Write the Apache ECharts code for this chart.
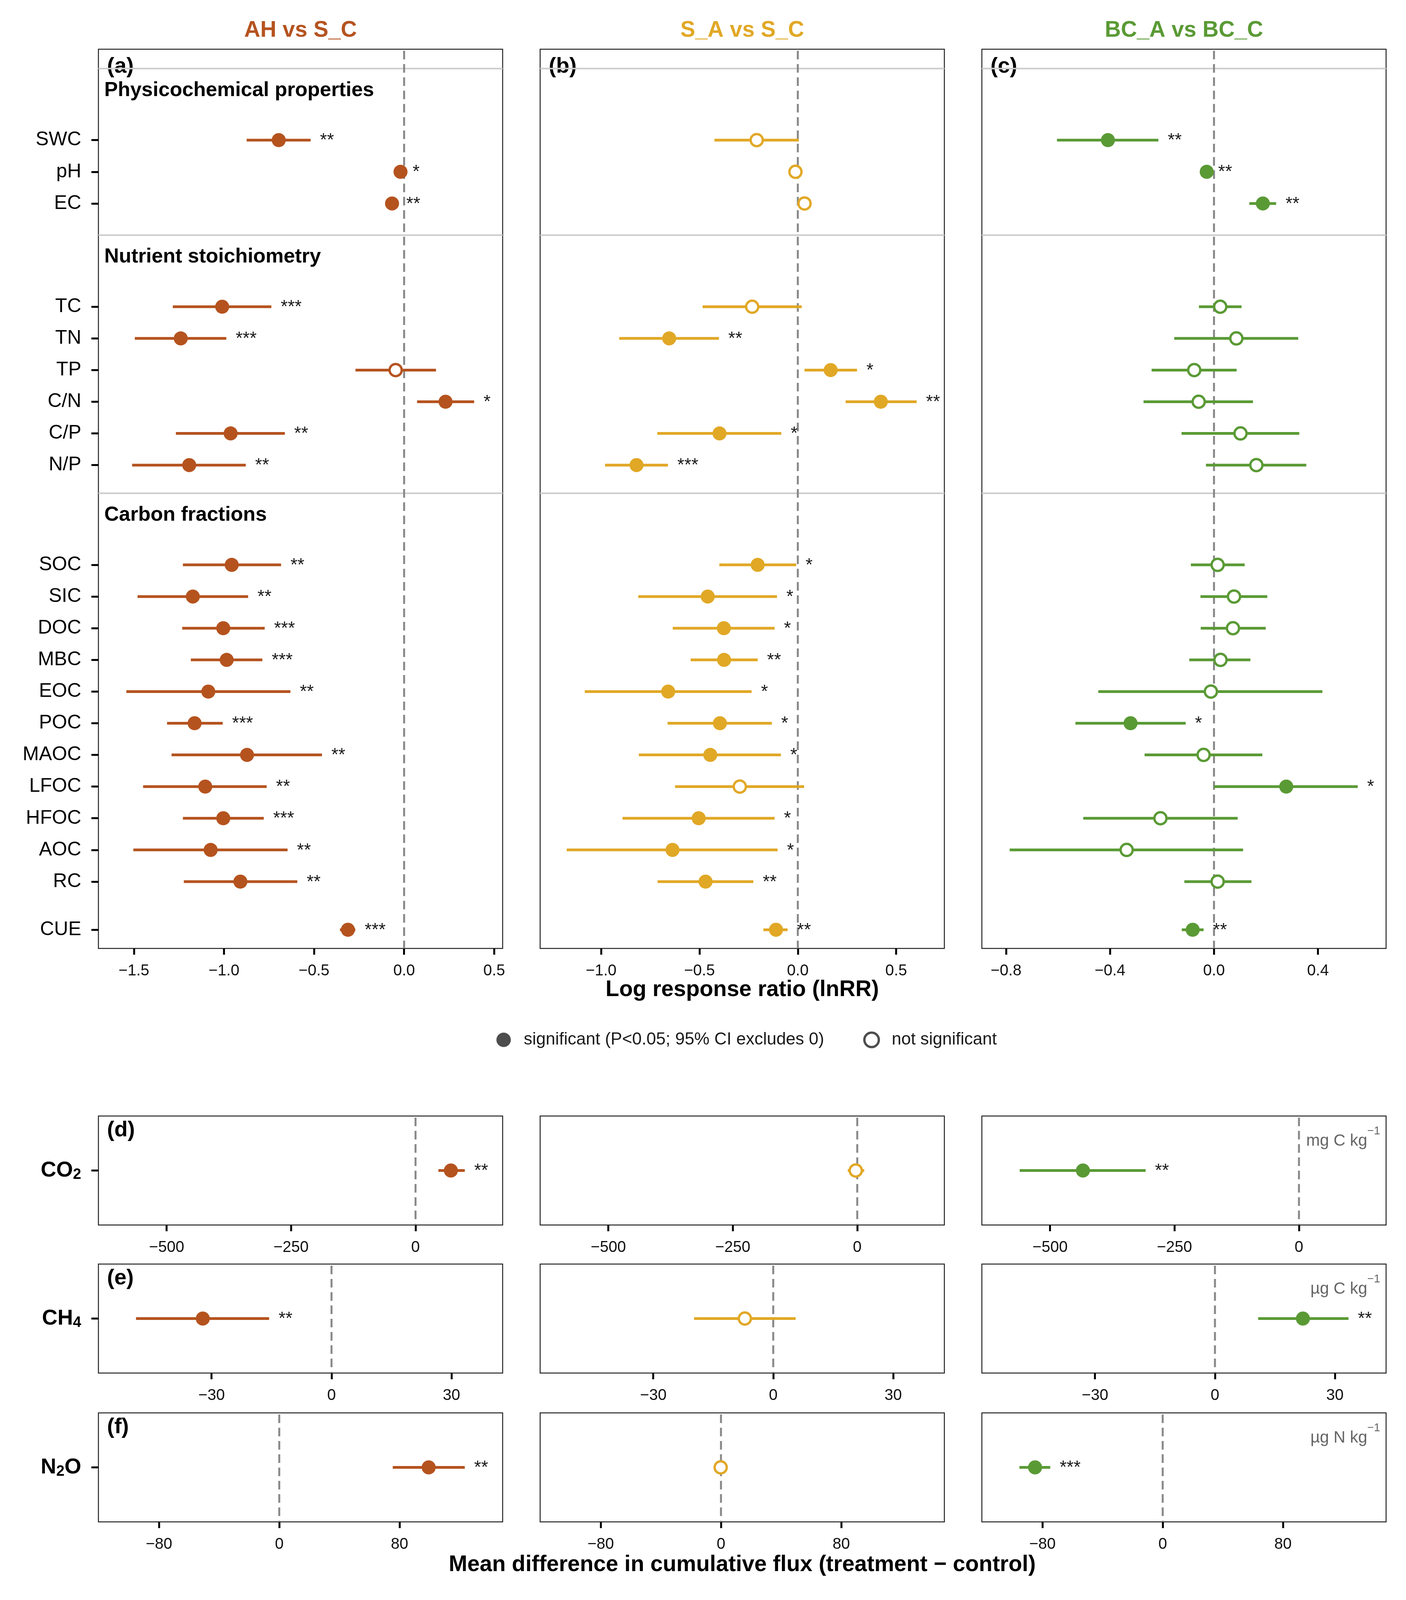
<!DOCTYPE html>
<html>
<head>
<meta charset="utf-8">
<script src="https://cdn.jsdelivr.net/npm/echarts@6/dist/echarts.min.js"></script>
<style>
  html, body { margin: 0; padding: 0; background: #fff; overflow: hidden; }
  #chart { width: 3600px; height: 4207px; }
</style>
</head>
<body>
<div id="chart"></div>
<script>
// ---- data ----
const physRows = ['SWC', 'pH', 'EC'];
const nutrRows = ['TC', 'TN', 'TP', 'C/N', 'C/P', 'N/P'];
const carbRows = ['SOC', 'SIC', 'DOC', 'MBC', 'EOC', 'POC', 'MAOC', 'LFOC', 'HFOC', 'AOC', 'RC'];
const cueRows = ['CUE'];
const sectionTitles = ['Physicochemical properties', 'Nutrient stoichiometry', 'Carbon fractions'];
const comparisons = ['AH vs S_C', 'S_A vs S_C', 'BC_A vs BC_C'];

// lnRR, rows in order SWC..EC, TC..N/P, SOC..RC, CUE
const ahEst = [-0.696, -0.02, -0.067, -1.01, -1.24, -0.047, 0.23, -0.963, -1.193, -0.957, -1.173, -1.004, -0.985, -1.087, -1.163, -0.872, -1.104, -1.004, -1.074, -0.909, -0.312];
const ahLo  = [-0.874, -0.035, -0.095, -1.284, -1.495, -0.27, 0.072, -1.267, -1.51, -1.228, -1.48, -1.232, -1.184, -1.542, -1.316, -1.291, -1.449, -1.228, -1.503, -1.223, -0.356];
const ahHi  = [-0.519, -0.005, -0.04, -0.737, -0.987, 0.177, 0.389, -0.662, -0.879, -0.683, -0.866, -0.774, -0.787, -0.631, -1.007, -0.456, -0.763, -0.779, -0.647, -0.593, -0.271];
const ahSig = ['**', '*', '**', '***', '***', '', '*', '**', '**', '**', '**', '***', '***', '**', '***', '**', '**', '***', '**', '**', '***'];

const saEst = [-0.209, -0.012, 0.034, -0.232, -0.654, 0.167, 0.422, -0.398, -0.82, -0.204, -0.458, -0.376, -0.375, -0.659, -0.396, -0.445, -0.295, -0.504, -0.637, -0.469, -0.111];
const saLo  = [-0.424, -0.02, 0.026, -0.484, -0.908, 0.034, 0.243, -0.714, -0.98, -0.399, -0.811, -0.636, -0.545, -1.083, -0.662, -0.808, -0.624, -0.891, -1.175, -0.713, -0.175];
const saHi  = [0.005, -0.004, 0.042, 0.02, -0.401, 0.301, 0.604, -0.084, -0.66, -0.008, -0.106, -0.118, -0.204, -0.235, -0.132, -0.086, 0.032, -0.118, -0.103, -0.226, -0.052];
const saSig = ['', '', '', '', '**', '*', '**', '*', '***', '*', '*', '*', '**', '*', '*', '*', '', '*', '*', '**', '**'];

const bcEst = [-0.408, -0.028, 0.188, 0.024, 0.086, -0.076, -0.059, 0.102, 0.163, 0.014, 0.077, 0.073, 0.025, -0.012, -0.321, -0.04, 0.278, -0.206, -0.336, 0.014, -0.082];
const bcLo  = [-0.604, -0.036, 0.136, -0.058, -0.153, -0.24, -0.271, -0.125, -0.031, -0.089, -0.052, -0.051, -0.095, -0.445, -0.533, -0.267, 0.0, -0.503, -0.786, -0.114, -0.124];
const bcHi  = [-0.214, -0.02, 0.239, 0.106, 0.324, 0.087, 0.15, 0.328, 0.355, 0.118, 0.205, 0.199, 0.14, 0.417, -0.109, 0.186, 0.553, 0.091, 0.112, 0.144, -0.04];
const bcSig = ['**', '**', '**', '', '', '', '', '', '', '', '', '', '', '', '*', '', '*', '', '', '', '**'];

// cumulative flux difference (treatment - control), order CO2, CH4, N2O
const gases = ['CO2', 'CH4', 'N2O'];
const gasUnits = ['mg C kg', 'µg C kg', 'µg N kg'];
const ahFluxEst = [71, -32.2, 99.4];
const ahFluxLo  = [46, -48.9, 75.5];
const ahFluxHi  = [99, -15.6, 123.4];
const ahFluxSig = ['**', '**', '**'];
const saFluxEst = [-3, -7.1, -0.2];
const saFluxLo  = [-19, -19.8, -1.5];
const saFluxHi  = [14, 5.6, 1.1];
const saFluxSig = ['', '', ''];
const bcFluxEst = [-434, 22.0, -84.9];
const bcFluxLo  = [-561, 10.8, -95.3];
const bcFluxHi  = [-308, 33.4, -74.8];
const bcFluxSig = ['**', '**', '***'];

// axes
const lnrrRange = [[-1.697, 0.547], [-1.31, 0.745], [-0.893, 0.662]];
const lnrrTicks = [[-1.5, -1.0, -0.5, 0, 0.5], [-1.0, -0.5, 0, 0.5], [-0.8, -0.4, 0, 0.4]];
const fluxRange = [[-637, 175], [-58.3, 42.8], [-120.3, 148.6]];
const fluxTicks = [[-500, -250, 0], [-30, 0, 30], [-80, 0, 80]];

// ---- layout ----
// the figure was laid out for 4207 px of height; squeeze vertically to the real viewport
const H = Math.min(window.innerHeight || 4207, 4207);
const sy = H / 4207;
const Y = v => Math.round(v * sy);
document.getElementById('chart').style.height = H + 'px';

const FONT = '"Liberation Sans", Arial, Helvetica, sans-serif';
const colors = ['#B5531F', '#E1A826', '#5A9A35'];
const panelLeft = [252, 1383, 2514];
const panelW = 1035;
const topY = Y(129), topH = Y(2494) - Y(129);
const fluxTop = [Y(2934), Y(3324), Y(3715)];
const fluxH = Y(287);

// row positions on the hidden y scale (units of one row)
const groups = [physRows, nutrRows, carbRows, cueRows];
const groupStart = [2.87, 8.13, 16.28, 27.8];
const yMax = 28.39;
const rowNames = groups.flat();
const rowPos = groups.flatMap((g, gi) => g.map((_, i) => groupStart[gi] + i));
const posToName = {};
rowPos.forEach((p, i) => { posToName[p.toFixed(2)] = rowNames[i]; });
const sectionLinePos = groupStart.slice(0, 3).map(s => s - 2.26);
const sectionHeadPos = groupStart.slice(0, 3).map(s => s - 1.57);

const minus = s => String(s).replace('-', '\u2212');
const fmt1 = v => minus(Number(v).toFixed(1));
const fmt0 = v => minus(Math.round(v));

const chart = echarts.init(document.getElementById('chart'), null, { renderer: 'canvas' });

const grids = [], xAxes = [], yAxes = [], series = [];

function forest(idx, est, lo, hi, sig, pos, color) {
  return {
    type: 'custom', xAxisIndex: idx, yAxisIndex: idx, z: 5, silent: true,
    data: est.map((e, i) => [e, lo[i], hi[i], pos[i]]),
    encode: { x: [0, 1, 2], y: 3 },
    renderItem: function (params, api) {
      const i = params.dataIndex;
      const p = api.coord([api.value(0), api.value(3)]);
      const a = api.coord([api.value(1), api.value(3)]);
      const b = api.coord([api.value(2), api.value(3)]);
      const filled = sig[i] !== '';
      const kids = [
        { type: 'line', shape: { x1: a[0], y1: a[1], x2: b[0], y2: b[1] }, style: { stroke: color, lineWidth: 7 } },
        filled
          ? { type: 'circle', shape: { cx: p[0], cy: p[1], r: 18 }, style: { fill: color } }
          : { type: 'circle', shape: { cx: p[0], cy: p[1], r: 15.5 }, style: { fill: '#fff', stroke: color, lineWidth: 6 } }
      ];
      if (filled) {
        kids.push({ type: 'text', x: Math.max(b[0], p[0]) + 24, y: p[1] + 2,
          style: { text: sig[i], fill: '#1a1a1a', fontSize: 46, fontFamily: FONT, align: 'left', verticalAlign: 'middle' } });
      }
      return { type: 'group', children: kids };
    }
  };
}

function zeroLine(idx) {
  return {
    type: 'custom', xAxisIndex: idx, yAxisIndex: idx, z: 2, silent: true,
    data: [[0, 0]], encode: { x: 0, y: 1 },
    renderItem: function (params, api) {
      const cs = params.coordSys;
      const x = api.coord([api.value(0), api.value(1)])[0];
      return { type: 'line', shape: { x1: x, y1: cs.y + 4, x2: x, y2: cs.y + cs.height },
        style: { stroke: '#888888', lineWidth: 5, lineDash: [22, 12] } };
    }
  };
}

function sections(idx, withHeads) {
  return {
    type: 'custom', xAxisIndex: idx, yAxisIndex: idx, z: 1, silent: true,
    data: sectionLinePos.map((p, i) => [0, p, sectionHeadPos[i]]),
    encode: { x: 0, y: 1 },
    renderItem: function (params, api) {
      const cs = params.coordSys;
      const y = api.coord([0, api.value(1)])[1];
      const kids = [{ type: 'line', shape: { x1: cs.x, y1: y, x2: cs.x + cs.width, y2: y },
        style: { stroke: '#cccccc', lineWidth: 4 } }];
      if (withHeads) {
        const yh = api.coord([0, api.value(2)])[1];
        kids.push({ type: 'text', x: cs.x + 15, y: yh,
          style: { text: sectionTitles[params.dataIndex], fill: '#000', fontSize: 52, fontWeight: 'bold',
            fontFamily: FONT, align: 'left', verticalAlign: 'middle' } });
      }
      return { type: 'group', children: kids };
    }
  };
}

const lnrrSets = [[ahEst, ahLo, ahHi, ahSig], [saEst, saLo, saHi, saSig], [bcEst, bcLo, bcHi, bcSig]];
const fluxSets = [[ahFluxEst, ahFluxLo, ahFluxHi, ahFluxSig], [saFluxEst, saFluxLo, saFluxHi, saFluxSig], [bcFluxEst, bcFluxLo, bcFluxHi, bcFluxSig]];

const tickStyle = { show: true, length: 16, lineStyle: { color: '#000', width: 5 } };
const labelStyle = { color: '#111', fontSize: 40, fontFamily: FONT, margin: 38 };

// top panels (a)-(c)
for (let c = 0; c < 3; c++) {
  const idx = grids.length;
  grids.push({ left: panelLeft[c], top: topY, width: panelW, height: topH, show: true,
    borderColor: '#222', borderWidth: 2.5, backgroundColor: '#fff', containLabel: false });
  xAxes.push({ type: 'value', gridIndex: idx, min: lnrrRange[c][0], max: lnrrRange[c][1], position: 'bottom',
    axisLine: { show: false, onZero: false }, splitLine: { show: false },
    axisTick: Object.assign({ customValues: lnrrTicks[c] }, tickStyle),
    axisLabel: Object.assign({ customValues: lnrrTicks[c], formatter: fmt1 }, labelStyle) });
  yAxes.push({ type: 'value', gridIndex: idx, min: 0, max: yMax, inverse: true, position: 'left',
    axisLine: { show: false, onZero: false }, splitLine: { show: false },
    axisTick: { show: c === 0, customValues: rowPos, length: 18, lineStyle: { color: '#000', width: 5 } },
    axisLabel: { show: c === 0, customValues: rowPos, formatter: v => posToName[Number(v).toFixed(2)] || '',
      color: '#000', fontSize: 50, fontFamily: FONT, margin: 44 } });
  const s = lnrrSets[c];
  series.push(sections(idx, c === 0));
  series.push(zeroLine(idx));
  series.push(forest(idx, s[0], s[1], s[2], s[3], rowPos, colors[c]));
}

// bottom panels (d)-(f)
const gasRich = g => g.split(/(\d)/).filter(Boolean).map(t => /\d/.test(t) ? '{s|' + t + '}' : '{b|' + t + '}').join('');
for (let r = 0; r < 3; r++) {
  for (let c = 0; c < 3; c++) {
    const idx = grids.length;
    grids.push({ left: panelLeft[c], top: fluxTop[r], width: panelW, height: fluxH, show: true,
      borderColor: '#222', borderWidth: 2.5, backgroundColor: '#fff', containLabel: false });
    xAxes.push({ type: 'value', gridIndex: idx, min: fluxRange[r][0], max: fluxRange[r][1], position: 'bottom',
      axisLine: { show: false, onZero: false }, splitLine: { show: false },
      axisTick: Object.assign({ customValues: fluxTicks[r] }, tickStyle),
      axisLabel: Object.assign({ customValues: fluxTicks[r], formatter: fmt0 }, labelStyle) });
    yAxes.push({ type: 'category', gridIndex: idx, data: [gases[r]], position: 'left',
      axisLine: { show: false, onZero: false }, splitLine: { show: false },
      axisTick: { show: c === 0, alignWithLabel: true, length: 18, lineStyle: { color: '#000', width: 5 } },
      axisLabel: { show: c === 0, margin: 44, formatter: gasRich,
        rich: {
          b: { fontSize: 55, fontWeight: 'bold', fontFamily: FONT, color: '#000', lineHeight: 60 },
          s: { fontSize: 38, fontWeight: 'bold', fontFamily: FONT, color: '#000', lineHeight: 22, verticalAlign: 'bottom' }
        } } });
    const f = fluxSets[c];
    series.push(zeroLine(idx));
    series.push(forest(idx, [f[0][r]], [f[1][r]], [f[2][r]], [f[3][r]], [0], colors[c]));
  }
}

// legend entries
const legendNames = ['significant (P<0.05; 95% CI excludes 0)', 'not significant'];
legendNames.forEach(n => series.push({ type: 'scatter', name: n, data: [], xAxisIndex: 0, yAxisIndex: 0,
  itemStyle: { opacity: 1 } }));

const txt = (text, x, y, size, color, weight, align) => ({
  type: 'text', x: x, y: y, silent: true,
  style: { text: text, fill: color, fontSize: size, fontWeight: weight || 'normal', fontFamily: FONT,
    align: align || 'center', verticalAlign: 'middle' }
});

const graphics = [];
comparisons.forEach((t, c) => graphics.push(txt(t, panelLeft[c] + panelW / 2, Y(80), 57, colors[c], 'bold')));
['(a)', '(b)', '(c)'].forEach((t, c) => graphics.push(txt(t, panelLeft[c] + 22, Y(176), 56, '#000', 'bold', 'left')));
['(d)', '(e)', '(f)'].forEach((t, r) => graphics.push(txt(t, panelLeft[0] + 22, fluxTop[r] + Y(38), 56, '#000', 'bold', 'left')));
graphics.push(txt('Log response ratio (lnRR)', panelLeft[1] + panelW / 2, Y(2603), 57, '#000', 'bold'));
graphics.push(txt('Mean difference in cumulative flux (treatment \u2212 control)', panelLeft[1] + panelW / 2, Y(4115), 57, '#000', 'bold'));
gasUnits.forEach((u, r) => graphics.push({
  type: 'text', x: panelLeft[2] + panelW - 15, y: fluxTop[r] + Y(66), silent: true,
  style: { text: '{u|' + u + '}{p|\u22121}', align: 'right', verticalAlign: 'middle',
    rich: {
      u: { fontSize: 42, fontFamily: FONT, fill: '#666', color: '#666', lineHeight: 80 },
      p: { fontSize: 29, fontFamily: FONT, fill: '#666', color: '#666', lineHeight: 28, verticalAlign: 'top' }
    } }
}));

chart.setOption({
  backgroundColor: '#ffffff',
  animation: false,
  grid: grids,
  xAxis: xAxes,
  yAxis: yAxes,
  series: series,
  legend: {
    left: 1266, top: Y(2725) - 18, orient: 'horizontal', selectedMode: false,
    itemWidth: 37, itemHeight: 37, itemGap: 100,
    textStyle: { fontSize: 44, fontFamily: FONT, color: '#1a1a1a', padding: [0, 0, 0, 28] },
    data: [
      { name: legendNames[0], icon: 'circle', itemStyle: { color: '#4D4D4D', borderWidth: 0, opacity: 1 } },
      { name: legendNames[1], icon: 'circle', itemStyle: { color: '#ffffff', borderColor: '#4D4D4D', borderWidth: 6, opacity: 1 } }
    ]
  },
  graphic: graphics
});
</script>
</body>
</html>
